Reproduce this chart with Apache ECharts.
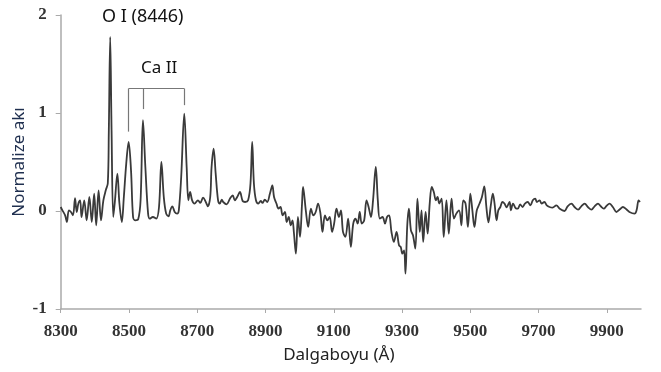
<!DOCTYPE html>
<html>
<head>
<meta charset="utf-8">
<script src="https://cdn.jsdelivr.net/npm/echarts@6/dist/echarts.min.js"></script>
<style>
    html, body { margin: 0; padding: 0; background: #fff; }
    #chart { width: 661px; height: 372px; }
</style>
</head>
<body>
<div id="chart"></div>
<script>
// dalga boyu (Å)
var wavelength = [
    8300, 8305, 8313, 8318, 8324, 8330, 8336, 8342, 8347, 8352, 8357, 8361, 8369, 8376, 8384, 8391,
    8398, 8404, 8411, 8418, 8425, 8432, 8438, 8441, 8445, 8449, 8454, 8459, 8466, 8472, 8479, 8485,
    8492, 8499, 8506, 8512, 8518, 8527, 8534, 8541, 8548, 8556, 8561, 8570, 8580, 8588, 8595, 8602,
    8609, 8616, 8621, 8627, 8634, 8641, 8646, 8653, 8662, 8669, 8674, 8679, 8685, 8692, 8702, 8709,
    8717, 8725, 8731, 8738, 8742, 8748, 8754, 8761, 8766, 8772, 8776, 8786, 8796, 8804, 8810, 8817,
    8825, 8833, 8840, 8849, 8856, 8861, 8866, 8872, 8879, 8886, 8891, 8898, 8905, 8913, 8920, 8925,
    8932, 8938, 8944, 8950, 8957, 8962, 8968, 8974, 8979, 8983, 8989, 8995, 9001, 9007, 9010, 9018,
    9025, 9033, 9040, 9047, 9054, 9061, 9067, 9074, 9081, 9088, 9095, 9101, 9108, 9115, 9121, 9127,
    9134, 9142, 9150, 9157, 9164, 9170, 9176, 9182, 9189, 9196, 9202, 9209, 9215, 9223, 9229, 9235,
    9243, 9250, 9256, 9262, 9269, 9276, 9284, 9291, 9296, 9301, 9306, 9310, 9315, 9320, 9326, 9332,
    9339, 9345, 9352, 9357, 9362, 9369, 9375, 9381, 9387, 9393, 9399, 9404, 9409, 9416, 9422, 9430,
    9437, 9445, 9452, 9459, 9467, 9474, 9479, 9486, 9493, 9500, 9506, 9512, 9519, 9527, 9534, 9541,
    9547, 9553, 9560, 9566, 9571, 9577, 9582, 9588, 9594, 9600, 9606, 9615, 9619, 9625, 9633, 9639,
    9646, 9653, 9660, 9668, 9676, 9683, 9690, 9695, 9703, 9709, 9717, 9724, 9732, 9741, 9752, 9762,
    9776, 9785, 9796, 9806, 9816, 9825, 9835, 9845, 9855, 9864, 9874, 9882, 9891, 9899, 9908, 9918,
    9928, 9938, 9947, 9957, 9966, 9981, 9987, 9993, 9997
];
// normalize akı
var flux = [
    0.041, 0.007, -0.044, -0.112, 0.007, -0.010, -0.044, 0.130, -0.010, 0.079, 0.109, -0.061, 0.109, -0.095, 0.143, -0.112,
    0.178, -0.146, 0.211, -0.095, 0.109, 0.211, 0.283, 0.823, 1.776, 0.823, -0.061, 0.109, 0.382, 0.079, -0.112, 0.143,
    0.484, 0.704, 0.415, -0.061, -0.095, -0.085, 0.109, 0.926, 0.449, -0.027, -0.078, -0.061, -0.078, 0.041, 0.500, 0.143,
    -0.027, -0.054, 0.007, 0.048, -0.010, -0.027, 0.007, 0.347, 0.994, 0.449, 0.109, 0.194, 0.109, 0.076, 0.109, 0.082,
    0.137, 0.092, 0.048, 0.143, 0.449, 0.637, 0.382, 0.109, 0.076, 0.116, 0.092, 0.068, 0.127, 0.160, 0.109, 0.143,
    0.194, 0.102, 0.092, 0.109, 0.280, 0.704, 0.280, 0.109, 0.076, 0.102, 0.082, 0.116, 0.092, 0.178, 0.262, 0.143,
    0.076, 0.024, 0.041, -0.044, -0.010, -0.112, -0.061, -0.146, -0.095, -0.214, -0.435, -0.061, -0.265, 0.076, 0.245, 0.007,
    -0.163, 0.024, -0.044, -0.010, 0.076, -0.027, -0.214, -0.044, -0.095, -0.061, -0.214, -0.129, 0.024, -0.061, 0.007, -0.214,
    -0.265, -0.078, -0.367, -0.129, -0.078, -0.129, -0.010, -0.129, -0.095, 0.109, 0.041, -0.061, 0.109, 0.449, 0.109, -0.078,
    -0.061, -0.129, -0.061, -0.044, -0.214, -0.316, -0.214, -0.350, -0.367, -0.435, -0.401, -0.639, -0.163, 0.024, -0.197, -0.248,
    -0.384, 0.127, -0.214, 0.007, -0.316, -0.010, -0.231, 0.076, 0.245, 0.194, 0.109, 0.143, 0.076, 0.127, -0.265, 0.109,
    -0.231, 0.127, -0.078, -0.027, 0.007, -0.146, 0.109, 0.076, -0.163, 0.178, 0.007, -0.163, 0.007, 0.076, 0.143, 0.252,
    0.041, -0.115, 0.058, 0.178, 0.076, -0.095, 0.007, 0.041, 0.092, 0.076, 0.038, 0.092, 0.007, 0.076, 0.028, 0.024,
    0.068, 0.041, 0.076, 0.092, 0.058, 0.109, 0.127, 0.092, 0.109, 0.076, 0.092, 0.058, 0.041, 0.035, 0.058, 0.022,
    0.000, 0.048, 0.076, 0.038, 0.014, 0.048, 0.076, 0.038, 0.014, 0.048, 0.076, 0.048, 0.024, 0.053, 0.076, 0.038,
    -0.010, 0.017, 0.041, 0.017, -0.010, -0.027, 0.007, 0.109, 0.092
];
// Ca II üçlüsü (Å) ve işaret uçları
var caLines = [8499, 8541, 8662];
var caTickEnds = [0.81, 1.04, 1.08];
var bracketLevel = 1.25;

var chart = echarts.init(document.getElementById('chart'));

var points = wavelength.map(function(w, i) {
    return [w, flux[i]];
});

var bracket = [[{coord: [caLines[0], bracketLevel]}, {coord: [caLines[2], bracketLevel]}]];
caLines.forEach(function(w, i) {
    bracket.push([{coord: [w, bracketLevel]}, {coord: [w, caTickEnds[i]]}]);
});

var tickFont = {
    fontFamily: 'Liberation Serif',
    fontWeight: 'bold',
    fontSize: 17,
    color: '#333',
    formatter: function(v) {
        return String(v);
    }
};

var option = {
    animation: false,
    grid: {left: 60.7, right: 20, top: 15, bottom: 63, containLabel: false, outerBoundsMode: 'none'},
    xAxis: {
        type: 'value',
        min: 8300,
        max: 10000,
        interval: 200,
        name: 'Dalgaboyu (Å)',
        nameLocation: 'middle',
        nameGap: 38,
        nameMoveOverlap: false,
        nameTextStyle: {
            fontFamily: 'Noto Sans',
            fontSize: 17,
            color: '#222',
            padding: [0, 24, 0, 0]
        },
        axisLine: {onZero: false, lineStyle: {color: '#aaa', width: 1.5}},
        axisTick: {length: 4, lineStyle: {color: '#aaa'}},
        axisLabel: Object.assign({margin: 14, showMaxLabel: false}, tickFont),
        splitLine: {show: false}
    },
    yAxis: {
        type: 'value',
        min: -1,
        max: 2,
        interval: 1,
        name: 'Normalize akı',
        nameLocation: 'middle',
        nameGap: 33,
        nameMoveOverlap: false,
        nameTextStyle: {
            fontFamily: 'Noto Sans',
            fontSize: 17,
            color: '#1f2f4f'
        },
        axisLine: {show: true, lineStyle: {color: '#aaa', width: 1.5}},
        axisTick: {show: true, length: 5, lineStyle: {color: '#aaa'}},
        axisLabel: Object.assign({margin: 14}, tickFont),
        splitLine: {show: false}
    },
    graphic: [
        {
            type: 'text', left: 102, top: 8,
            style: {text: 'O I (8446)', font: '18px "Noto Sans"', fill: '#111'}
        },
        {
            type: 'text', left: 141, top: 60,
            style: {text: 'Ca II', font: '17px "Noto Sans"', fill: '#111'}
        }
    ],
    series: [{
        type: 'line',
        data: points,
        showSymbol: false,
        smooth: 0.35,
        lineStyle: {color: '#3a3a3a', width: 1.8},
        markLine: {
            silent: true,
            symbol: 'none',
            label: {show: false},
            lineStyle: {color: '#777', width: 1.2, type: 'solid'},
            data: bracket
        }
    }]
};

chart.setOption(option);
</script>
</body>
</html>
